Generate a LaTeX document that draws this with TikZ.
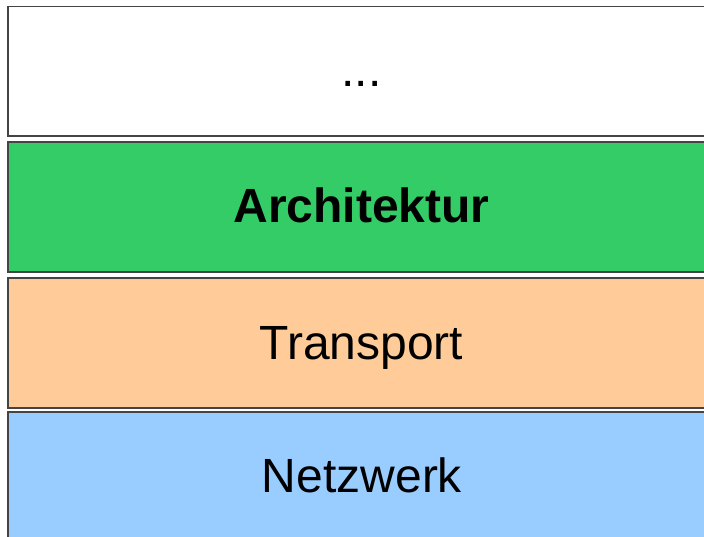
\documentclass[tikz,border=0pt]{standalone}
\usepackage{fontspec}
\setmainfont{Liberation Sans}
\definecolor{layergreen}{HTML}{33CC66}
\definecolor{layerorange}{HTML}{FFCC99}
\definecolor{layerblue}{HTML}{99CCFF}
\definecolor{edgegray}{HTML}{444444}
\begin{document}
\begin{tikzpicture}[x=1pt,y=1pt,
  layer/.style={draw=edgegray,line width=1.3pt},
  label/.style={anchor=base,inner sep=0pt,font=\fontsize{48}{56}\selectfont}]
\useasboundingbox (0,0) rectangle (704,536);
\clip (0,0) rectangle (704,536);
\path[layer,fill=white] (8,529.5) rectangle (712,400);
\path[layer,fill=layergreen] (8,394) rectangle (712,264);
\path[layer,fill=layerorange] (8,258) rectangle (712,128);
\path[layer,fill=layerblue] (8,124) rectangle (712,-10);
\node[label] (dots) at (361.5,449) {...};
\node[label,font=\fontsize{48}{56}\selectfont\bfseries] (arch) at (361.5,313) {Architektur};
\node[label] (trans) at (361.5,176) {Transport};
\node[label] (netz) at (362,44) {Netzwerk};
\end{tikzpicture}
\end{document}
